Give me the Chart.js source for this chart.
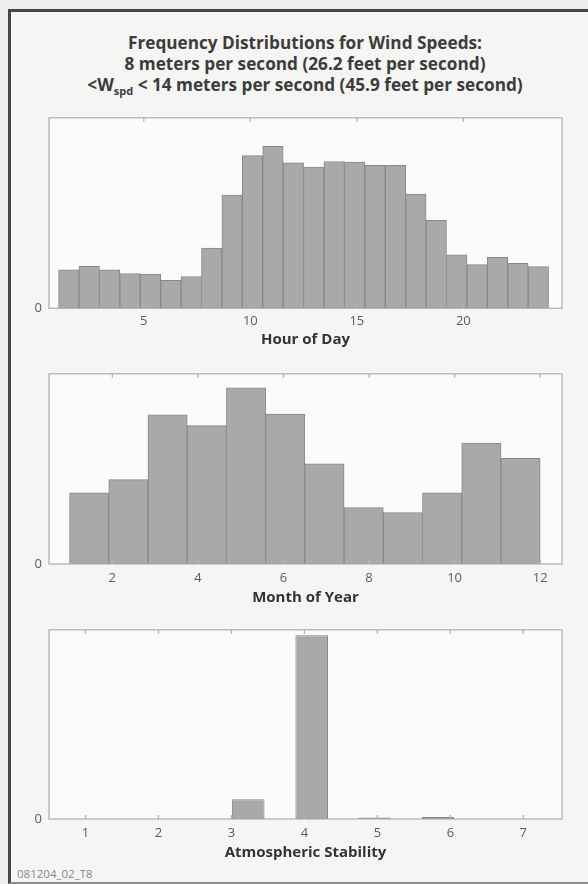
<!DOCTYPE html>
<html><head><meta charset="utf-8">
<script src="https://cdn.jsdelivr.net/npm/chart.js@4.4.0/dist/chart.umd.min.js"></script>
<style>
html,body{margin:0;padding:0;background:#efefed;width:588px;height:884px;overflow:hidden;font-family:"Open Sans",sans-serif;}
#frame{position:absolute;left:8px;top:9px;width:640px;height:870px;border-left:3px solid #474747;border-top:3px solid #474747;border-bottom:2px solid #8a8a8a;background:#f5f5f3;}
#title{position:absolute;left:22px;width:566px;top:32px;text-align:center;font-weight:700;font-size:17.2px;line-height:21px;color:#3c3c3c;}
#title sub{font-size:11px;vertical-align:-4px;line-height:0}
canvas{position:absolute;left:0}
#code{position:absolute;left:17px;top:866px;font-size:11.5px;color:#888;}
</style></head><body>
<div id="frame"></div>
<div id="title">Frequency Distributions for Wind Speeds:<br>8 meters per second (26.2 feet per second)<br>&lt;W<sub>spd</sub> &lt; 14 meters per second (45.9 feet per second)</div>
<canvas id="c1"></canvas>
<canvas id="c2"></canvas>
<canvas id="c3"></canvas>
<div id="code">081204_02_T8</div>
<script>
// ---- data (relative frequencies) ----
const hourRange = [1, 24];
const hourCounts = [39, 42.6, 39, 35.3, 34.6, 28.3, 32.3, 61, 115, 155, 164.3, 147.6, 143.3, 149, 148.3, 145, 145, 116, 89.3, 54.3, 44.3, 51.6, 45.6, 42.3];
const hourTicks = [5, 10, 15, 20];

const monthRange = [1, 12];
const monthCounts = [72.3, 85.7, 151.7, 140.7, 179, 152.3, 101.7, 57.3, 52.3, 72.3, 123, 107.3];
const monthTicks = [2, 4, 6, 8, 10, 12];

const stabilityBins = [3.23, 4.10, 4.96, 5.83];
const stabilityCounts = [20, 186.7, 1.5, 2];
const stabilityTicks = [1, 2, 3, 4, 5, 6, 7];

// ---- layout ----
const PLOT_L = 49, PLOT_R = 562;
const FONT = 'Open Sans';

function histPoints(range, counts) {
  const w = (range[1] - range[0]) / counts.length;
  return counts.map((v, i) => ({x: range[0] + (i + 0.5) * w, y: v}));
}

const boxPlugin = {
  id: 'box',
  beforeDraw(chart) {
    const a = chart.chartArea, c = chart.ctx;
    c.save(); c.fillStyle = '#fbfbfa'; c.fillRect(a.left, a.top, a.right - a.left, a.bottom - a.top); c.restore();
  },
  afterDatasetsDraw(chart) {
    const a = chart.chartArea, c = chart.ctx, xs = chart.scales.x;
    c.save();
    c.strokeStyle = '#b3b3b3'; c.lineWidth = 1.3;
    c.strokeRect(a.left, a.top, a.right - a.left, a.bottom - a.top);
    c.beginPath();
    xs.ticks.forEach(t => {
      const p = xs.getPixelForValue(t.value);
      c.moveTo(p, a.top); c.lineTo(p, a.top + 4);
      c.moveTo(p, a.bottom); c.lineTo(p, a.bottom - 4);
    });
    c.stroke();
    c.restore();
  }
};

function makeChart(id, L, points, xMin, xMax, ticks, yMax, title, barPct) {
  const canvas = document.getElementById(id);
  const top = Math.round(L.plotTop - 12);
  const height = Math.round(L.titleCenter + 14 - top);
  canvas.width = 588; canvas.height = height; canvas.style.top = top + 'px';
  const padTop = L.plotTop - top;
  const xAxisH = (L.titleCenter + 11) - L.plotBottom;
  const padBottom = height - (L.plotBottom - top) - xAxisH;
  new Chart(canvas, {
    type: 'bar',
    data: {datasets: [{data: points, backgroundColor: '#a9a9a9', borderColor: '#888888', borderWidth: 1,
      barPercentage: barPct, categoryPercentage: 1, borderSkipped: false}]},
    options: {
      responsive: false, animation: false, devicePixelRatio: 1,
      layout: {padding: {left: 0, right: 588 - PLOT_R, top: padTop, bottom: padBottom}},
      plugins: {legend: {display: false}, tooltip: {enabled: false}},
      scales: {
        x: {type: 'linear', min: xMin, max: xMax, offset: false,
          afterBuildTicks: s => { s.ticks = ticks.map(v => ({value: v})); },
          afterFit: s => { s.height = xAxisH; },
          grid: {display: false, drawTicks: false}, border: {display: false},
          ticks: {padding: L.tickCenter - L.plotBottom - 7.8, color: '#5c5c5c', font: {family: FONT, size: 13}, maxRotation: 0, autoSkip: false},
          title: {display: true, text: title, color: '#333', font: {family: FONT, size: 15, weight: 'bold'}, padding: {top: 0, bottom: 2}}
        },
        y: {min: 0, max: yMax,
          afterBuildTicks: s => { s.ticks = [{value: 0}]; },
          afterFit: s => { s.width = PLOT_L; },
          grid: {display: false, drawTicks: false}, border: {display: false},
          ticks: {padding: 7, color: '#5c5c5c', font: {family: FONT, size: 13}}
        }
      }
    },
    plugins: [boxPlugin]
  });
}

makeChart('c1', {plotTop: 115, plotBottom: 308.3, tickCenter: 321.7, titleCenter: 340},
  histPoints(hourRange, hourCounts), 0.55, 24.63, hourTicks, 193.3, 'Hour of Day', 1);
makeChart('c2', {plotTop: 370.7, plotBottom: 564, tickCenter: 578, titleCenter: 597.7},
  histPoints(monthRange, monthCounts), 0.52, 12.51, monthTicks, 193.3, 'Month of Year', 1);
makeChart('c3', {plotTop: 626.7, plotBottom: 819, tickCenter: 833, titleCenter: 852.3},
  stabilityBins.map((x, i) => ({x, y: stabilityCounts[i]})), 0.5, 7.53, stabilityTicks, 192.3, 'Atmospheric Stability', 0.52);
</script>
</body></html>
